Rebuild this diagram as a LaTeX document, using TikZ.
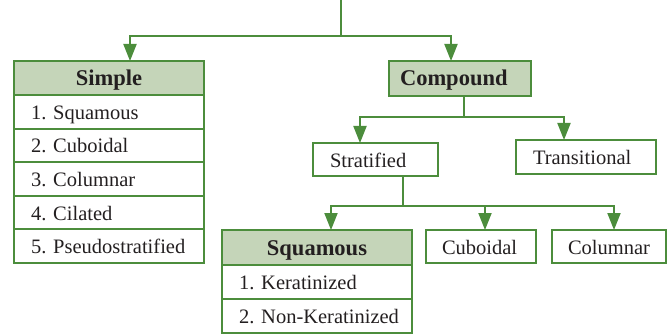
\documentclass[tikz,border=0pt]{standalone}
\usepackage{fontspec}
\setmainfont{Liberation Serif}
\usetikzlibrary{arrows.meta,positioning}
\definecolor{leaf}{RGB}{76,141,60}
\definecolor{headfill}{RGB}{197,213,185}
\definecolor{ink}{RGB}{35,31,32}

\begin{document}
\begin{tikzpicture}[x=1pt,y=-1pt,
  box/.style={draw=leaf, line width=2pt, inner ysep=0pt, outer sep=0pt, text=ink,
    text height=15pt, text depth=0pt,
    font=\fontsize{20.5}{24}\selectfont\frenchspacing},
  cell/.style={box, inner xsep=17pt, align=left},
  head/.style={box, fill=headfill, inner xsep=0pt, align=center,
    font=\fontsize{22.5}{26}\selectfont\bfseries},
  wire/.style={draw=leaf, line width=2pt},
  feed/.style={wire, -{Triangle[length=17pt,width=13pt]}}
]
\useasboundingbox (0,0) rectangle (669,334);

% simple epithelia
\node[head, minimum width=190pt, text width=190pt, minimum height=34pt] (simpleH) at (109,78) {Simple};
\node[cell, text width=156pt, minimum height=33.6pt, below=0pt of simpleH] (s1) {\mbox{1. Squamous}};
\node[cell, text width=156pt, minimum height=33.6pt, below=0pt of s1] (s2) {\mbox{2. Cuboidal}};
\node[cell, text width=156pt, minimum height=33.6pt, below=0pt of s2] (s3) {\mbox{3. Columnar}};
\node[cell, text width=156pt, minimum height=33.6pt, below=0pt of s3] (s4) {\mbox{4. Cilated}};
\node[cell, text width=156pt, minimum height=33.6pt, below=0pt of s4] (s5) {\mbox{5. Pseudostratified}};

% compound epithelia
\node[head, align=left, inner xsep=11pt, text width=120pt, minimum height=35pt] (compound) at (460,78.5) {\mbox{Compound}};
\node[cell, text width=91pt, minimum height=33pt] (strat) at (375.5,159.5) {\mbox{Stratified}};
\node[cell, text width=106pt, minimum height=34pt] (trans) at (586,157) {\mbox{Transitional}};

% stratified types
\node[head, minimum width=190pt, text width=190pt, minimum height=35pt] (sqH) at (317,247.5) {Squamous};
\node[cell, text width=156pt, minimum height=34pt, below=0pt of sqH] (k1) {\mbox{1. Keratinized}};
\node[cell, text width=156pt, minimum height=34pt, below=0pt of k1] (k2) {\mbox{2. Non-Keratinized}};
\node[cell, text width=78pt, minimum height=33pt, inner xsep=16pt] (cub) at (481,246.5) {\mbox{Cuboidal}};
\node[cell, text width=82pt, minimum height=33pt, inner xsep=16pt] (col) at (609,246.5) {\mbox{Columnar}};

% connectors
\coordinate (root) at (341,0);
\draw[wire] (root) -- (341,36) coordinate (j1);
\draw[feed] (j1) -| ([xshift=21pt]simpleH.north);
\draw[feed] (j1) -| ([xshift=-9pt]compound.north);

\draw[wire] ([xshift=4pt]compound.south) -- ++(0,21) coordinate (j2);
\draw[feed] (j2) -| ([xshift=-15.5pt]strat.north);
\draw[feed] (j2) -| ([xshift=-22pt]trans.north);

\draw[wire] ([xshift=27.5pt]strat.south) -- ++(0,30) coordinate (j3);
\draw[feed] (j3) -| ([xshift=14pt]sqH.north);
\draw[feed] (j3) -| ([xshift=4pt]cub.north);
\draw[feed] (j3) -| ([xshift=5pt]col.north);
\end{tikzpicture}
\end{document}
